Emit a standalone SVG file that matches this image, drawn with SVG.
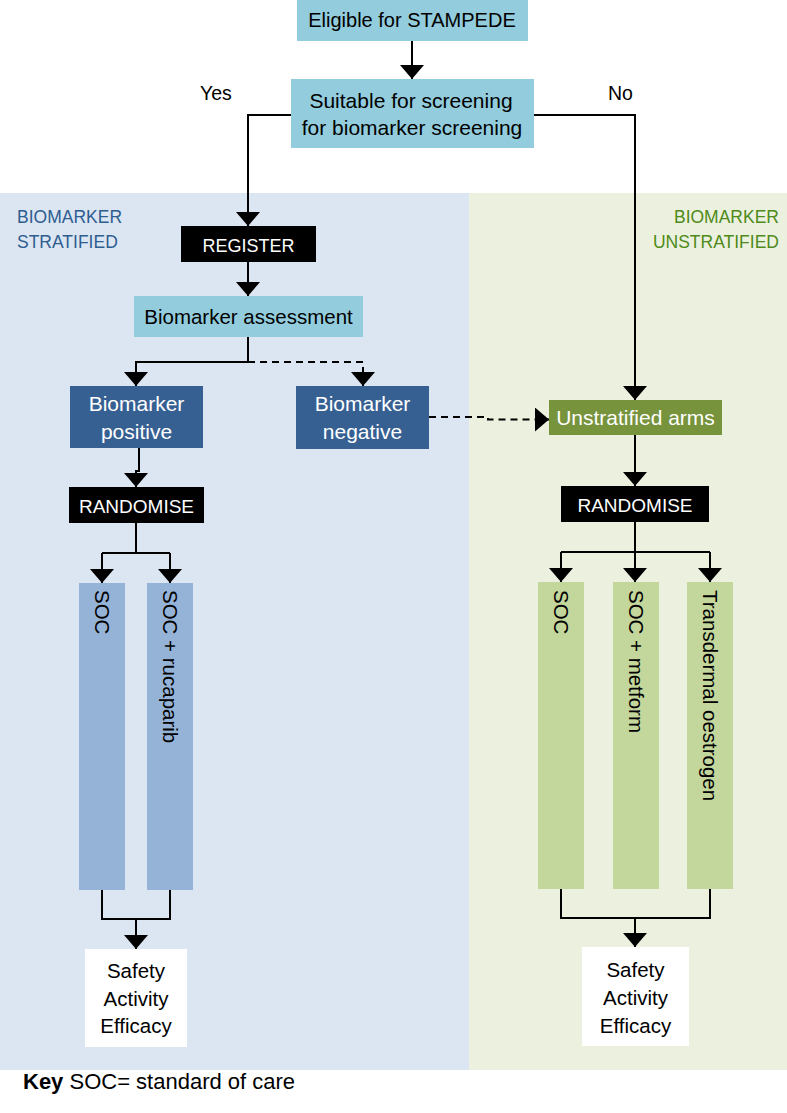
<svg xmlns="http://www.w3.org/2000/svg" width="787" height="1113" viewBox="0 0 787 1113">
<style>
text{font-family:"Liberation Sans",Arial,sans-serif;font-size:20.5px;fill:#000}
.c{text-anchor:middle}
.w{fill:#fff}
.lbl{font-size:17.5px}
.bar{font-size:20.5px}
.ln{fill:none;stroke:#000;stroke-width:2}
.dash{stroke-dasharray:7,5}
</style>
<defs>
<marker id="ah" viewBox="0 0 14 24" refX="14" refY="12" markerWidth="14" markerHeight="24" markerUnits="userSpaceOnUse" orient="auto">
<path d="M0,0 L14,12 L0,24 z" fill="#000"/>
</marker>
</defs>
<rect width="787" height="1113" fill="#fff"/>
<g id="panels">
<rect x="0" y="193" width="469" height="877" fill="#dce6f2"/>
<rect x="469" y="193" width="318" height="877" fill="#ebf1de"/>
<text class="lbl" x="17" y="223" style="fill:#2e5d90">BIOMARKER</text>
<text class="lbl" x="17" y="248" style="fill:#2e5d90">STRATIFIED</text>
<text class="lbl" x="779" y="223" text-anchor="end" style="fill:#4f8a1a">BIOMARKER</text>
<text class="lbl" x="779" y="248" text-anchor="end" style="fill:#4f8a1a">UNSTRATIFIED</text>
</g>
<g id="connectors">
<path class="ln" d="M412,41 V79" marker-end="url(#ah)"/>
<path class="ln" d="M291,115 H248 V226" marker-end="url(#ah)"/>
<path class="ln" d="M534,115 H635 V400" marker-end="url(#ah)"/>
<path class="ln" d="M248,262 V296" marker-end="url(#ah)"/>
<path class="ln" d="M248,337 V362 H136 V386" marker-end="url(#ah)"/>
<path class="ln dash" d="M248,362 H363 V386" marker-end="url(#ah)"/>
<path class="ln dash" d="M429,417 H488 V419.5 H549" marker-end="url(#ah)"/>
<path class="ln" d="M139,448 V471 H136 V487" marker-end="url(#ah)"/>
<path class="ln" d="M136,523 V553 M102,553 H170"/>
<path class="ln" d="M102,553 V583" marker-end="url(#ah)"/>
<path class="ln" d="M170,553 V583" marker-end="url(#ah)"/>
<path class="ln" d="M102,890 V919 H170 V890"/>
<path class="ln" d="M136,919 V949" marker-end="url(#ah)"/>
<path class="ln" d="M635,435 V486" marker-end="url(#ah)"/>
<path class="ln" d="M635,522 V552 M561,552 H710"/>
<path class="ln" d="M561,552 V582" marker-end="url(#ah)"/>
<path class="ln" d="M635,552 V582" marker-end="url(#ah)"/>
<path class="ln" d="M710,552 V582" marker-end="url(#ah)"/>
<path class="ln" d="M561,889 V918 H710 V889"/>
<path class="ln" d="M635,918 V947" marker-end="url(#ah)"/>
<text x="200" y="100" style="font-size:19.5px">Yes</text>
<text x="608" y="100" style="font-size:19.5px">No</text>
</g>
<g id="eligible">
<rect x="297" y="0" width="231" height="41" fill="#93cddd"/>
<text class="c" x="412" y="27" style="font-size:20px">Eligible for STAMPEDE</text>
</g>
<g id="suitable">
<rect x="291" y="79" width="243" height="69" fill="#93cddd"/>
<text class="c" x="411" y="108" style="font-size:21px">Suitable for screening</text>
<text class="c" x="412" y="135" style="font-size:21px">for biomarker screening</text>
</g>
<g id="register">
<rect x="181" y="226" width="135" height="36" fill="#000"/>
<text class="c w" x="248.5" y="252" style="font-size:18px">REGISTER</text>
</g>
<g id="assessment">
<rect x="134" y="296" width="229" height="41" fill="#93cddd"/>
<text class="c" x="248.5" y="324">Biomarker assessment</text>
</g>
<g id="positive">
<rect x="70" y="386" width="133" height="62" fill="#376092"/>
<text class="c w" x="136.5" y="411" style="font-size:21px">Biomarker</text>
<text class="c w" x="136.5" y="439" style="font-size:21px">positive</text>
</g>
<g id="negative">
<rect x="296" y="386" width="133" height="63" fill="#376092"/>
<text class="c w" x="362.5" y="411" style="font-size:21px">Biomarker</text>
<text class="c w" x="362.5" y="439" style="font-size:21px">negative</text>
</g>
<g id="unstratified">
<rect x="549" y="400" width="173" height="35" fill="#77933c"/>
<text class="c w" x="635.5" y="425" style="font-size:21px">Unstratified arms</text>
</g>
<g id="randomise-left">
<rect x="69" y="487" width="135" height="36" fill="#000"/>
<text class="c w" x="136.5" y="513" style="font-size:19px">RANDOMISE</text>
</g>
<g id="randomise-right">
<rect x="561" y="486" width="148" height="36" fill="#000"/>
<text class="c w" x="635" y="512" style="font-size:19px">RANDOMISE</text>
</g>
<g id="bar-soc-left">
<rect x="79" y="583" width="46" height="307" fill="#95b3d7"/>
<text class="bar" transform="translate(95,590) rotate(90)">SOC</text>
</g>
<g id="bar-rucaparib">
<rect x="147" y="583" width="46" height="307" fill="#95b3d7"/>
<text class="bar" transform="translate(163,590) rotate(90)">SOC + rucaparib</text>
</g>
<g id="bar-soc-right">
<rect x="538" y="582" width="46" height="307" fill="#c3d69b"/>
<text class="bar" transform="translate(554,590) rotate(90)">SOC</text>
</g>
<g id="bar-metform">
<rect x="613" y="582" width="46" height="307" fill="#c3d69b"/>
<text class="bar" transform="translate(629,590) rotate(90)">SOC + metform</text>
</g>
<g id="bar-oestrogen">
<rect x="687" y="582" width="46" height="307" fill="#c3d69b"/>
<text class="bar" transform="translate(703,590) rotate(90)">Transdermal oestrogen</text>
</g>
<g id="outcome-left">
<rect x="85" y="949" width="102" height="98" fill="#fff"/>
<text class="c" x="136" y="978">Safety</text>
<text class="c" x="136" y="1006">Activity</text>
<text class="c" x="136" y="1033">Efficacy</text>
</g>
<g id="outcome-right">
<rect x="582" y="947" width="107" height="99" fill="#fff"/>
<text class="c" x="635.5" y="977">Safety</text>
<text class="c" x="635.5" y="1005">Activity</text>
<text class="c" x="635.5" y="1033">Efficacy</text>
</g>
<g id="key">
<text x="23" y="1089" style="font-size:22px"><tspan font-weight="bold">Key</tspan> SOC= standard of care</text>
</g>
</svg>
